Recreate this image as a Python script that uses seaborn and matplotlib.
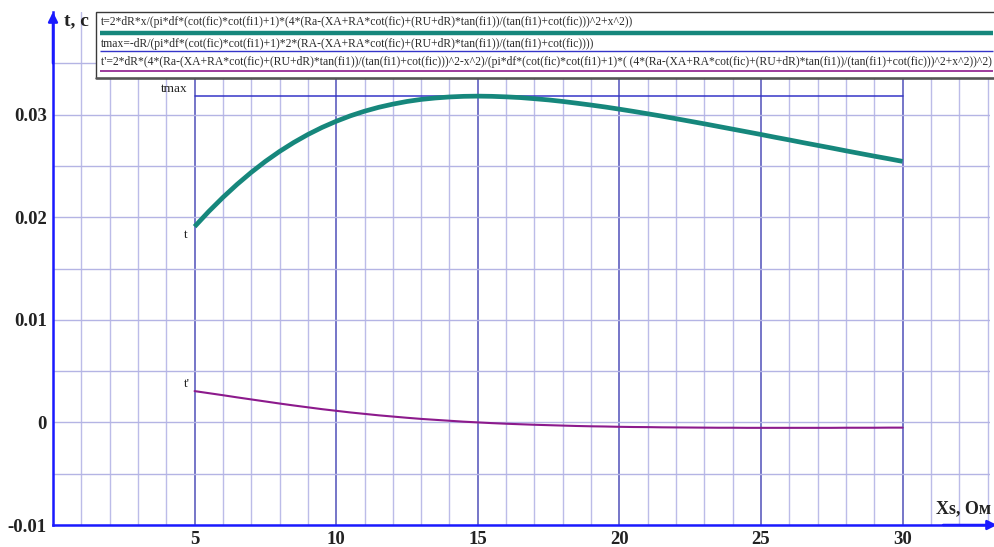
import matplotlib
matplotlib.use("Agg")
import matplotlib.pyplot as plt
import pandas as pd
import seaborn as sns
from matplotlib.lines import Line2D
from matplotlib.patches import Rectangle

# Xs, Ohm
xs = [5, 5.5, 6, 6.5, 7, 7.5, 8, 8.5, 9, 9.5, 10, 10.5, 11, 11.5, 12, 12.5,
      13, 13.5, 14, 14.5, 15, 15.5, 16, 16.5, 17, 17.5, 18, 18.5, 19, 19.5,
      20, 20.5, 21, 21.5, 22, 22.5, 23, 23.5, 24, 24.5, 25, 25.5, 26, 26.5,
      27, 27.5, 28, 28.5, 29, 29.5, 30]
# t, s
t_vals = [0.01908, 0.02056, 0.02193, 0.02320, 0.02437, 0.02544, 0.02641,
          0.02728, 0.02806, 0.02875, 0.02935, 0.02988, 0.03033, 0.03071,
          0.03102, 0.03128, 0.03148, 0.03162, 0.03172, 0.03178, 0.03180,
          0.03178, 0.03173, 0.03166, 0.03155, 0.03143, 0.03128, 0.03111,
          0.03093, 0.03074, 0.03053, 0.03031, 0.03008, 0.02985, 0.02960,
          0.02935, 0.02910, 0.02884, 0.02858, 0.02832, 0.02806, 0.02779,
          0.02753, 0.02726, 0.02700, 0.02674, 0.02647, 0.02621, 0.02595,
          0.02570, 0.02544]
# derivative t'
t_prime_vals = [0.00305, 0.00285, 0.00265, 0.00244, 0.00224, 0.00204, 0.00184,
                0.00165, 0.00147, 0.00129, 0.00113, 0.00097, 0.00083, 0.00069,
                0.00057, 0.00045, 0.00034, 0.00025, 0.00016, 0.00007, 0.0,
                -0.00007, -0.00013, -0.00018, -0.00023, -0.00027, -0.00031,
                -0.00035, -0.00038, -0.00040, -0.00043, -0.00045, -0.00046,
                -0.00048, -0.00049, -0.00050, -0.00051, -0.00052, -0.00052,
                -0.00053, -0.00053, -0.00053, -0.00053, -0.00053, -0.00053,
                -0.00053, -0.00052, -0.00052, -0.00052, -0.00051, -0.00051]
t_max = 0.0318

x_ticks = [5, 10, 15, 20, 25, 30]
x_tick_labels = ["5", "10", "15", "20", "25", "30"]
y_ticks = [-0.01, 0.0, 0.01, 0.02, 0.03]
y_tick_labels = ["-0.01", "0", "0.01", "0.02", "0.03"]

formula_t = ("t=2*dR*x/(pi*df*(cot(fic)*cot(fi1)+1)*(4*(Ra-(XA+RA*cot(fic)+(RU+dR)*tan(fi1))"
             "/(tan(fi1)+cot(fic)))^2+x^2))")
formula_tmax = ("tmax=-dR/(pi*df*(cot(fic)*cot(fi1)+1)*2*(RA-(XA+RA*cot(fic)+(RU+dR)*tan(fi1))"
                "/(tan(fi1)+cot(fic))))")
formula_tp = ("t'=2*dR*(4*(Ra-(XA+RA*cot(fic)+(RU+dR)*tan(fi1))/(tan(fi1)+cot(fic)))^2-x^2)"
              "/(pi*df*(cot(fic)*cot(fi1)+1)*( (4*(Ra-(XA+RA*cot(fic)+(RU+dR)*tan(fi1))"
              "/(tan(fi1)+cot(fic)))^2+x^2))^2)")

TEAL = "#16877c"
BLUE = "#3535c8"
PURPLE = "#8c1a8c"
AXIS_BLUE = "#1a1aff"
SERIF = ["Liberation Serif", "DejaVu Serif"]

sns.set_theme(style="white")
plt.rcParams["font.family"] = SERIF

W, H = 995, 547
fig = plt.figure(figsize=(W / 100, H / 100), dpi=100)
fig.patch.set_facecolor("white")


def fx(px):
    return px / W


def fy(py):
    return 1 - py / H


ax_left, ax_right, ax_top, ax_bottom = 53, 990, 12, 525
ax = fig.add_axes([fx(ax_left), fy(ax_bottom), fx(ax_right - ax_left),
                   (ax_bottom - ax_top) / H])
ax.set_facecolor("white")

df_t = pd.DataFrame({"x": xs, "t": t_vals, "tp": t_prime_vals,
                     "tmax": [t_max] * len(xs)})

# grid: one line per Ohm, darker every 5; horizontal every 0.005
ax.set_xlim(0, (ax_right - ax_left) / 28.32)
ax.set_ylim(-0.01, 0.0400)
ax.set_xticks(x_ticks)
ax.set_xticklabels(x_tick_labels)
ax.set_xticks(list(range(0, 34)), minor=True)
ax.set_yticks(y_ticks)
ax.set_yticklabels(y_tick_labels)
ax.set_yticks([-0.01 + 0.005 * i for i in range(10)], minor=True)
ax.grid(which="minor", axis="x", color="#bcbce8", lw=1.0, zorder=0)
ax.grid(which="major", axis="x", color="#6a6ac4", lw=1.3, zorder=0)
ax.grid(which="both", axis="y", color="#b4b4e4", lw=1.0, zorder=0)
ax.set_axisbelow(True)

sns.lineplot(data=df_t, x="x", y="tmax", ax=ax, color=BLUE, lw=1.1,
             zorder=3)
sns.lineplot(data=df_t, x="x", y="t", ax=ax, color=TEAL, lw=3.4,
             zorder=4, solid_capstyle="butt")
sns.lineplot(data=df_t, x="x", y="tp", ax=ax, color=PURPLE, lw=1.5,
             zorder=4)

ax.text(4.75, t_vals[0] - 0.0002, "t", ha="right", va="top", fontsize=9.5,
        color="#222222")
ax.text(4.75, t_max + 0.0001, "tmax", ha="right", va="bottom", fontsize=9.5,
        color="#222222")
ax.text(4.85, t_prime_vals[0] + 0.0001, "t'", ha="right", va="bottom",
        fontsize=9.5, color="#222222")

ax.set_xlabel("")
ax.set_ylabel("")
ax.tick_params(which="both", length=0)
ax.tick_params(axis="y", pad=4.5)
ax.tick_params(axis="x", pad=4.5)
for lab in ax.get_xticklabels() + ax.get_yticklabels():
    lab.set_fontweight("bold")
    lab.set_fontsize(13.5)
    lab.set_color("#222222")

for s in ["top", "right"]:
    ax.spines[s].set_visible(False)
for s in ["left", "bottom"]:
    ax.spines[s].set_color(AXIS_BLUE)
    ax.spines[s].set_linewidth(1.8)
    ax.spines[s].set_zorder(6)

# axis arrows
ax.annotate("", xy=(0, 1.0), xytext=(0, 0.9), xycoords="axes fraction",
            arrowprops=dict(arrowstyle="-|>", color=AXIS_BLUE, lw=1.8,
                            mutation_scale=14, shrinkA=0, shrinkB=0),
            annotation_clip=False, zorder=7)
ax.annotate("", xy=(fx(W + 2 - ax_left) / fx(ax_right - ax_left), 0),
            xytext=(0.95, 0), xycoords="axes fraction",
            arrowprops=dict(arrowstyle="-|>", color=AXIS_BLUE, lw=1.8,
                            mutation_scale=14, shrinkA=0, shrinkB=0),
            annotation_clip=False, zorder=7)

# axis titles
fig.text(fx(64), fy(21), "t, c", fontsize=14, fontweight="bold",
         ha="left", va="center", color="#222222")
fig.text(fx(991), fy(509), "Xs, Ом", fontsize=13, fontweight="bold",
         ha="right", va="center", color="#222222")

# formula box
fig.patches.append(Rectangle((fx(96), fy(78)), fx(W + 20 - 96), (78 - 12) / H,
                             transform=fig.transFigure, facecolor="white",
                             edgecolor="#3a3a3a", lw=1.0, zorder=10))
fig.lines.append(Line2D([fx(96), fx(W)], [fy(78.5), fy(78.5)],
                        transform=fig.transFigure, color="#555555", lw=1.8,
                        zorder=11))

rows = [(formula_t, 22.5, 32.5, TEAL, 3.2),
        (formula_tmax, 43.5, 51, BLUE, 1.0),
        (formula_tp, 62.5, 71, PURPLE, 1.2)]
for text, ty, ly, col, lw in rows:
    fig.text(fx(101), fy(ty), text, fontsize=8.4, ha="left", va="center",
             color="#2a2a2a", zorder=12)
    fig.lines.append(Line2D([fx(100), fx(993)], [fy(ly), fy(ly)],
                            transform=fig.transFigure, color=col, lw=lw,
                            zorder=12, solid_capstyle="butt"))

fig.savefig("out.png", dpi=100, facecolor="white")
